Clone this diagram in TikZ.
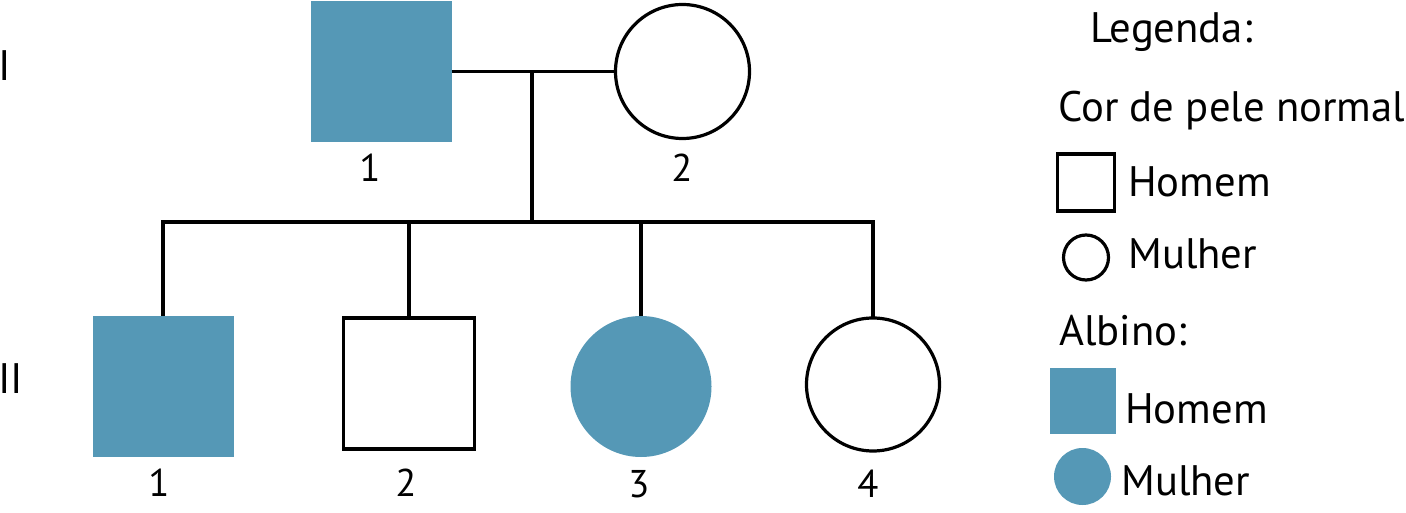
\documentclass[tikz,border=0pt]{standalone}
\usepackage{fontspec}
\setmainfont{PT Sans}
\definecolor{albino}{RGB}{85,152,182}

\tikzset{
  pessoa/.style={inner sep=0pt, outer sep=0pt},
  homem/.style={pessoa, rectangle, draw=black, line width=2.4pt, minimum size=#1*0.75pt},
  mulher/.style={pessoa, circle, draw=black, line width=2.4pt, minimum size=#1*0.75pt},
  homemalb/.style={pessoa, rectangle, fill=albino, minimum size=#1*0.75pt},
  mulheralb/.style={pessoa, circle, fill=albino, minimum size=#1*0.75pt},
  linha/.style={line width=2.4pt},
  numero/.style={anchor=base, inner sep=0pt, font=\fontsize{29}{30}\selectfont},
  texto/.style={anchor=base west, inner sep=0pt, font=\fontsize{32}{34}\selectfont},
}

\begin{document}
\begin{tikzpicture}[x=0.75pt,y=0.75pt,yscale=-1,xscale=1]
    \useasboundingbox (0,0) rectangle (1406,513);

    %Shape: Geracao I
    \node [homemalb=141] (I1) at (381,71.5) {};
    \node [mulher=134] (I2) at (682.5,71.5) {};
    %Shape: Geracao II
    \node [homemalb=141] (II1) at (163,386.5) {};
    \node [homem=131] (II2) at (409,383.5) {};
    \node [mulheralb=141] (II3) at (641,386.5) {};
    \node [mulher=133] (II4) at (873,384.5) {};

    %Straight Lines: casal e descendencia
    \coordinate (meio) at (532,71.5);
    \coordinate (irmandade) at (532,222);
    \draw [linha] (I1.east) -- (I2.west);
    \draw [linha] (meio) -- (irmandade);
    \draw [linha] (II1.north) |- (irmandade) -| (II4.north);
    \foreach \f in {II2,II3}
      \draw [linha] (\f.north) -- (\f.north |- irmandade);

    % Text Node: geracoes
    \node [texto] (gI) at (-2,81) {I};
    \node [texto] (gII) at (-2,393) {II};
    % Text Node: numeros
    \node [numero] (nI1) at (370,182) {1};
    \node [numero] (nI2) at (682,182) {2};
    \node [numero] (nII1) at (159,496) {1};
    \node [numero] (nII2) at (406,496) {2};
    \node [numero] (nII3) at (639,497) {3};
    \node [numero] (nII4) at (868,497) {4};

    % Legenda
    \node [texto] (leg) at (1090,43) {Legenda:};
    \node [texto] (normal) at (1058,122) {Cor de pele normal};
    \node [homem=57] (lh) at (1086,182.5) {};
    \node [texto] (lht) at (1128,197) {Homem};
    \node [mulher=45] (lm) at (1086,257.5) {};
    \node [texto] (lmt) at (1128,268) {Mulher};
    \node [texto] (alb) at (1059,345) {Albino:};
    \node [homemalb=66] (lha) at (1083,401) {};
    \node [texto] (lhat) at (1125,423) {Homem};
    \node [mulheralb=57] (lma) at (1082.5,476.5) {};
    \node [texto] (lmat) at (1121,495) {Mulher};
  \end{tikzpicture}
\end{document}
